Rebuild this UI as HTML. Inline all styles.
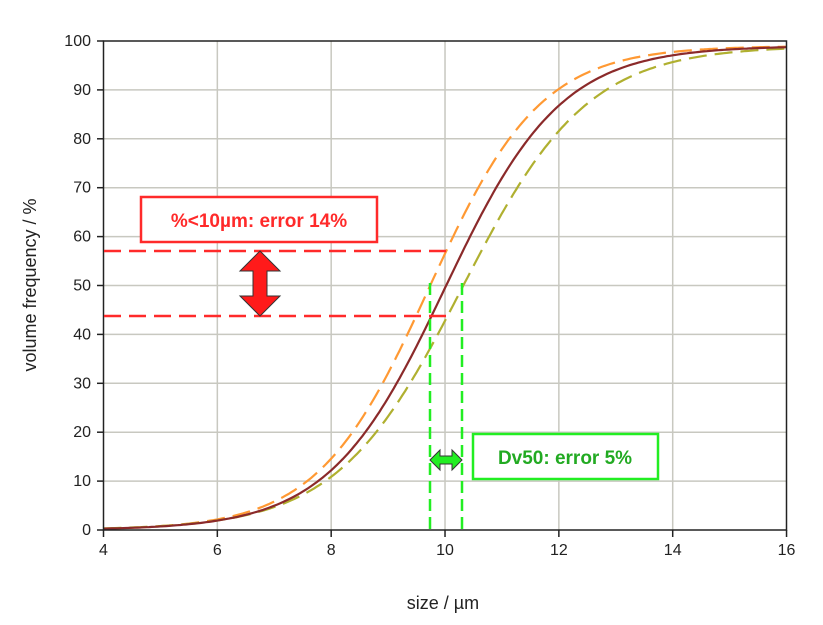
<!DOCTYPE html>
<html><head><meta charset="utf-8"><style>
body{margin:0;background:#fff;}
svg{display:block;font-family:"Liberation Sans",Arial,sans-serif;}
</style></head><body>
<svg id="s" width="823" height="625" viewBox="0 0 823 625" xmlns="http://www.w3.org/2000/svg">
<g id="grid" stroke="#c8c8c0" stroke-width="1.5"></g>
<g id="curves" fill="none"></g>
<rect x="103.5" y="41" width="683" height="489" fill="none" stroke="#222" stroke-width="1.5"/>
<g id="ticks" stroke="#222" stroke-width="1.5"></g>
<g id="labels" font-size="16" fill="#222"></g>
<text x="443" y="609" font-size="18" text-anchor="middle" fill="#222">size / µm</text>
<text transform="translate(36,285) rotate(-90)" font-size="18" text-anchor="middle" fill="#222">volume frequency / %</text>
<line x1="104" y1="251" x2="448" y2="251" stroke="#ff2a2a" stroke-width="2.5" stroke-dasharray="17,8"/>
<line x1="104" y1="316" x2="448" y2="316" stroke="#ff2a2a" stroke-width="2.5" stroke-dasharray="17,8"/>
<polygon points="260,251 280,271 267,271 267,296 280,296 260,316 240,296 253,296 253,271 240,271" fill="#ff1a1a" stroke="#333" stroke-width="1"/>
<rect x="141" y="197" width="236" height="45" fill="#fff" stroke="#ff2a2a" stroke-width="2.5"/>
<text x="259" y="227" font-size="19" font-weight="bold" fill="#ff2a2a" text-anchor="middle">%&lt;10µm: error 14%</text>
<line x1="430" y1="283" x2="430" y2="530" stroke="#22ee22" stroke-width="2.5" stroke-dasharray="12,6"/>
<line x1="462" y1="283" x2="462" y2="530" stroke="#22ee22" stroke-width="2.5" stroke-dasharray="12,6"/>
<polygon points="430,460 440,450 440,456 452,456 452,450 462,460 452,470 452,464 440,464 440,470" fill="#22ee22" stroke="#333" stroke-width="1"/>
<rect x="473" y="434" width="185" height="45" fill="#fff" stroke="#22ee22" stroke-width="2.5"/>
<text x="565" y="464" font-size="19" font-weight="bold" fill="#22aa22" text-anchor="middle">Dv50: error 5%</text>
</svg>
<script>
var X=function(v){return 103.5+(v-4)*56.92;},Y=function(p){return 530-p*4.89;};
var ns="http://www.w3.org/2000/svg";
function el(t,a,p){var e=document.createElementNS(ns,t);for(var k in a)e.setAttribute(k,a[k]);document.getElementById(p).appendChild(e);return e;}
for(var v=6;v<16;v+=2)el("line",{x1:X(v),y1:41,x2:X(v),y2:530},"grid");
for(var p=10;p<100;p+=10)el("line",{x1:103.5,y1:Y(p),x2:786.5,y2:Y(p)},"grid");
for(var v=4;v<=16;v+=2){el("line",{x1:X(v),y1:530,x2:X(v),y2:537},"ticks");var t=el("text",{x:X(v),y:555,"text-anchor":"middle"},"labels");t.textContent=v;}
for(var p=0;p<=100;p+=10){el("line",{x1:97,y1:Y(p),x2:103.5,y2:Y(p)},"ticks");var t=el("text",{x:91,y:Y(p)+5,"text-anchor":"end"},"labels");t.textContent=p;}
function path(c,s){var d="";for(var v=4;v<=16.001;v+=0.05){var f=99/(1+Math.exp(-(v-c)/s));d+=(d?"L":"M")+X(v).toFixed(1)+","+Y(f).toFixed(1);}return d;}
el("path",{d:path(9.72,0.98),stroke:"#ff9933","stroke-width":2.2,"stroke-dasharray":"18,8"},"curves");
el("path",{d:path(10.3,1.1),stroke:"#b0b030","stroke-width":2.2,"stroke-dasharray":"18,8"},"curves");
el("path",{d:path(10.0,1.02),stroke:"#8b2a2a","stroke-width":2.2},"curves");
</script>
</body></html>
